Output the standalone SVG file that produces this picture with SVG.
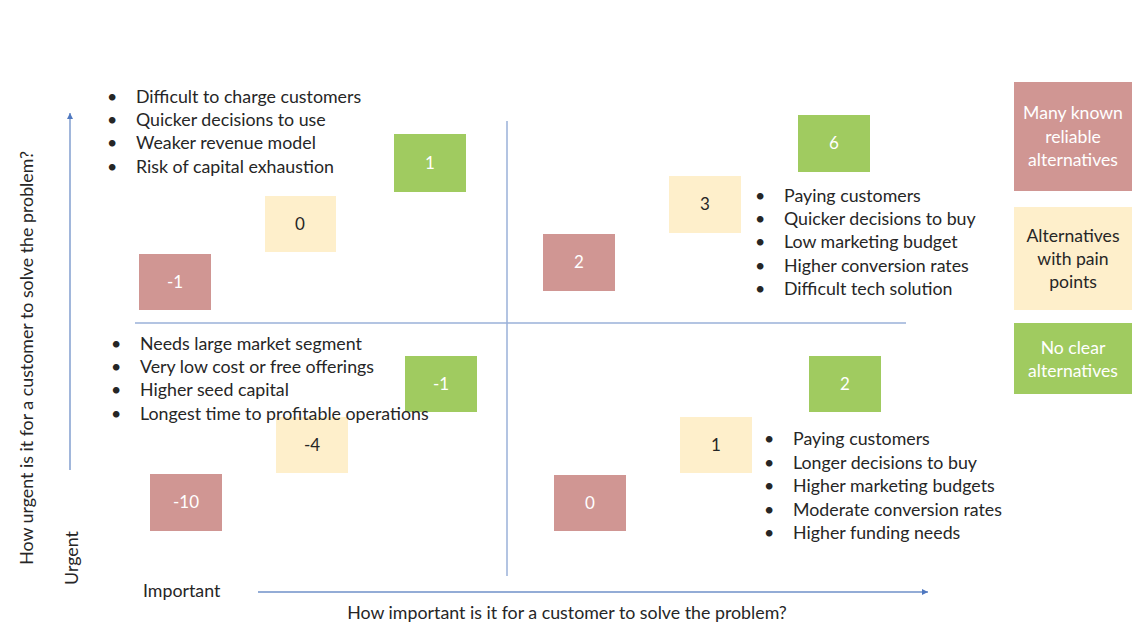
<svg xmlns="http://www.w3.org/2000/svg" width="1137" height="644" viewBox="0 0 1137 644">
<style>
text{font-family:Lato,"Open Sans","Liberation Sans",sans-serif;font-size:17.8px;fill:#262626}
.red{fill:#D09693}
.yel{fill:#FEEFCB}
.grn{fill:#A0CB60}
.w{fill:#ffffff;text-anchor:middle;font-size:17px}
.d{fill:#262626;text-anchor:middle;font-size:17px}
.div{stroke:#9AB1D8;stroke-width:1.5;fill:none}
.ax{stroke:#6F90C8;stroke-width:1.3;fill:none}
.lg{fill:#ffffff;text-anchor:middle;font-size:17.6px}
</style>
<defs>
<marker id="ah" markerWidth="8" markerHeight="8" refX="6" refY="3" orient="auto" markerUnits="userSpaceOnUse">
<path d="M0,0 L6,3 L0,6 z" fill="#4F78C0"/>
</marker>
</defs>
<rect width="1137" height="644" fill="#ffffff"/>
<g id="connectors">
<line class="div" x1="507" y1="121" x2="507" y2="576"/>
<line class="div" x1="135" y1="323" x2="906" y2="323"/>
<line class="ax" x1="70" y1="470" x2="70" y2="113" marker-end="url(#ah)"/>
<line class="ax" x1="258" y1="592" x2="928" y2="592" marker-end="url(#ah)"/>
</g>
<g id="axis-labels">
<text x="143" y="597">Important</text>
<text x="567" y="619" text-anchor="middle">How important is it for a customer to solve the problem?</text>
<text transform="translate(78,558) rotate(-90)" text-anchor="middle">Urgent</text>
<text transform="translate(33,358) rotate(-90)" text-anchor="middle">How urgent is it for a customer to solve the problem?</text>
</g>
<g id="nodes-boxes">
<g id="tl-green-1"><rect class="grn" x="394" y="134" width="72" height="58"/><text class="w" x="430" y="169">1</text></g>
<g id="tl-yellow-0"><rect class="yel" x="265" y="196" width="71" height="56"/><text class="d" x="300" y="230">0</text></g>
<g id="tl-red-m1"><rect class="red" x="139" y="254" width="72" height="56"/><text class="w" x="175" y="288">-1</text></g>
<g id="tr-green-6"><rect class="grn" x="798" y="115" width="72" height="57"/><text class="w" x="834" y="149">6</text></g>
<g id="tr-yellow-3"><rect class="yel" x="669" y="176" width="72" height="57"/><text class="d" x="705" y="210">3</text></g>
<g id="tr-red-2"><rect class="red" x="543" y="234" width="72" height="57"/><text class="w" x="579" y="268">2</text></g>
<g id="bl-green-m1"><rect class="grn" x="405" y="356" width="72" height="56"/><text class="w" x="441" y="390">-1</text></g>
<g id="bl-yellow-m4"><rect class="yel" x="276" y="417" width="72" height="56"/><text class="d" x="312" y="451">-4</text></g>
<g id="bl-red-m10"><rect class="red" x="150" y="474" width="72" height="57"/><text class="w" x="186" y="508">-10</text></g>
<g id="br-green-2"><rect class="grn" x="809" y="356" width="72" height="56"/><text class="w" x="845" y="390">2</text></g>
<g id="br-yellow-1"><rect class="yel" x="680" y="417" width="72" height="56"/><text class="d" x="716" y="451">1</text></g>
<g id="br-red-0"><rect class="red" x="554" y="475" width="72" height="56"/><text class="w" x="590" y="509">0</text></g>
</g>
<g id="tl-bullets">
<text x="107" y="103">•</text><text x="136" y="103">Difficult to charge customers</text>
<text x="107" y="126">•</text><text x="136" y="126">Quicker decisions to use</text>
<text x="107" y="149">•</text><text x="136" y="149">Weaker revenue model</text>
<text x="107" y="173">•</text><text x="136" y="173">Risk of capital exhaustion</text>
</g>
<g id="tr-bullets">
<text x="755" y="202">•</text><text x="784" y="202">Paying customers</text>
<text x="755" y="225">•</text><text x="784" y="225">Quicker decisions to buy</text>
<text x="755" y="248">•</text><text x="784" y="248">Low marketing budget</text>
<text x="755" y="272">•</text><text x="784" y="272">Higher conversion rates</text>
<text x="755" y="295">•</text><text x="784" y="295">Difficult tech solution</text>
</g>
<g id="bl-bullets">
<text x="111" y="350">•</text><text x="140" y="350">Needs large market segment</text>
<text x="111" y="373">•</text><text x="140" y="373">Very low cost or free offerings</text>
<text x="111" y="396">•</text><text x="140" y="396">Higher seed capital</text>
<text x="111" y="420">•</text><text x="140" y="420">Longest time to profitable operations</text>
</g>
<g id="br-bullets">
<text x="764" y="445">•</text><text x="793" y="445">Paying customers</text>
<text x="764" y="469">•</text><text x="793" y="469">Longer decisions to buy</text>
<text x="764" y="492">•</text><text x="793" y="492">Higher marketing budgets</text>
<text x="764" y="516">•</text><text x="793" y="516">Moderate conversion rates</text>
<text x="764" y="539">•</text><text x="793" y="539">Higher funding needs</text>
</g>
<g id="legend-red"><rect class="red" x="1014" y="82" width="118" height="109"/>
<text class="lg" x="1073" y="119">Many known</text><text class="lg" x="1073" y="143">reliable</text><text class="lg" x="1073" y="166">alternatives</text></g>
<g id="legend-yellow"><rect class="yel" x="1014" y="207" width="118" height="103"/>
<text class="lg" x="1073" y="242" style="fill:#262626">Alternatives</text><text class="lg" x="1073" y="265" style="fill:#262626">with pain</text><text class="lg" x="1073" y="288" style="fill:#262626">points</text></g>
<g id="legend-green"><rect class="grn" x="1014" y="323" width="118" height="71"/>
<text class="lg" x="1073" y="354">No clear</text><text class="lg" x="1073" y="377">alternatives</text></g>
</svg>
